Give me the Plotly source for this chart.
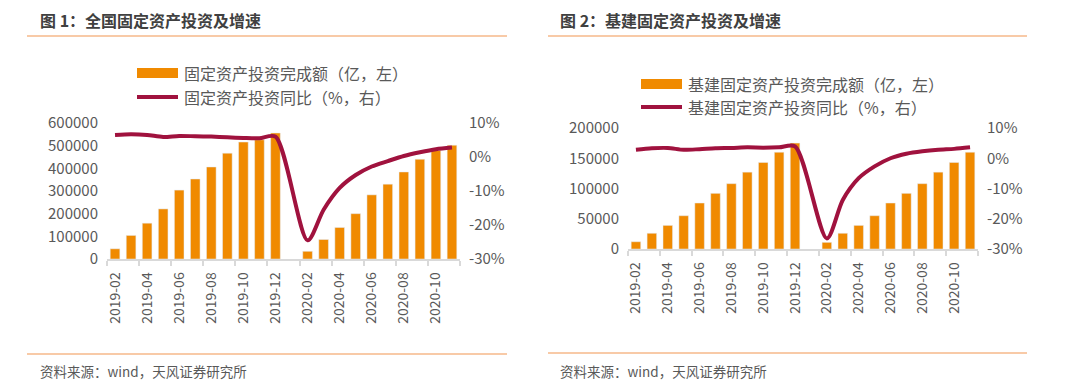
import plotly.graph_objects as go

# ---------------- data ----------------
months = ["2019-02", "2019-03", "2019-04", "2019-05", "2019-06", "2019-07",
          "2019-08", "2019-09", "2019-10", "2019-11", "2019-12", "2020-01",
          "2020-02", "2020-03", "2020-04", "2020-05", "2020-06", "2020-07",
          "2020-08", "2020-09", "2020-10", "2020-11"]

# Figure 1: national fixed asset investment (亿) and YoY (%)
fai_amount = [45000, 104000, 158000, 221000, 304000, 353000, 406000, 467000,
              516000, 526000, 556000, None,
              34000, 86000, 139000, 200000, 283000, 330000, 384000, 440000,
              479000, 502000]
fai_yoy = [6.5, 6.7, 6.5, 5.9, 6.2, 6.1, 6.0, 5.8, 5.6, 5.5, 6.0, None,
           -24.5, -15.5, -9.1, -5.3, -2.8, -1.2, 0.3, 1.4, 2.3, 2.8]

# Figure 2: infrastructure fixed asset investment (亿) and YoY (%)
infra_amount = [12000, 26000, 39000, 55000, 76000, 92000, 108000, 127000,
                143000, 160000, 175000, None,
                11000, 26000, 39000, 55000, 76000, 92000, 108000, 127000,
                143000, 160000]
infra_yoy = [2.8, 3.3, 3.4, 2.8, 3.0, 3.3, 3.4, 3.6, 3.5, 3.6, 3.9, None,
             -26.5, -13.8, -6.6, -2.7, 0.0, 1.5, 2.3, 2.8, 3.1, 3.6]

left_ticks_1 = [0, 100000, 200000, 300000, 400000, 500000, 600000]
left_ticks_2 = [0, 50000, 100000, 150000, 200000]
right_ticks = [-30, -20, -10, 0, 10]

titles = ["图 1：全国固定资产投资及增速", "图 2：基建固定资产投资及增速"]
legend_bar = ["固定资产投资完成额（亿，左）", "基建固定资产投资完成额（亿，左）"]
legend_line = ["固定资产投资同比（%，右）", "基建固定资产投资同比（%，右）"]
source = "资料来源：wind，天风证券研究所"

# ---------------- style ----------------
BAR = "#F08A00"
LINE = "#A0123E"
GRAY = "#595959"
AXIS = "#D9D9D9"
SEP = "#F6B98A"
FONT = "Noto Sans CJK SC"
W, H = 1080, 386

x = list(range(len(months)))
tickvals = x[::2]
ticktext = months[::2]
boundaries = [v - 0.5 for v in x[::2]] + [x[-1] + 0.5]
right_text = [f"{v}%" for v in right_ticks]

fig = go.Figure()

fig.add_trace(go.Bar(x=x, y=fai_amount, marker_color=BAR, width=0.6,
                     xaxis="x", yaxis="y", showlegend=False))
fig.add_trace(go.Scatter(x=x, y=fai_yoy, mode="lines", connectgaps=True,
                         line=dict(color=LINE, width=4, shape="spline", smoothing=0.8),
                         xaxis="x", yaxis="y2", showlegend=False))
fig.add_trace(go.Bar(x=x, y=infra_amount, marker_color=BAR, width=0.6,
                     xaxis="x2", yaxis="y3", showlegend=False))
fig.add_trace(go.Scatter(x=x, y=infra_yoy, mode="lines", connectgaps=True,
                         line=dict(color=LINE, width=4, shape="spline", smoothing=0.8),
                         xaxis="x2", yaxis="y4", showlegend=False))


def xax(domain, anchor):
    return dict(domain=domain, anchor=anchor, range=[-0.5, len(months) - 0.5],
                tickvals=tickvals, ticktext=ticktext, tickangle=-90,
                tickfont=dict(family=FONT, size=14, color=GRAY),
                ticks="", showline=True, linecolor=AXIS, linewidth=1.5,
                showgrid=False, zeroline=False, ticklabelstandoff=6,
                automargin=False,
                minor=dict(tickvals=boundaries, ticks="outside", ticklen=5,
                           tickcolor=AXIS, tickwidth=1.5, showgrid=False))


def yleft(domain, anchor, rng, tv):
    return dict(domain=domain, anchor=anchor, range=rng, tickvals=tv,
                ticktext=[str(v) for v in tv], showgrid=False, zeroline=False,
                showline=False, automargin=False,
                tickfont=dict(family=FONT, size=15, color=GRAY),
                ticklabelstandoff=8)


def yright(anchor, overlay):
    return dict(overlaying=overlay, anchor=anchor, side="right", range=[-30, 10],
                tickvals=right_ticks, ticktext=right_text, showgrid=False,
                zeroline=False, showline=False, automargin=False,
                tickfont=dict(family=FONT, size=15, color=GRAY),
                ticklabelstandoff=8)


fig.update_layout(
    width=W, height=H, margin=dict(l=0, r=0, t=0, b=0, pad=0, autoexpand=False),
    paper_bgcolor="white", plot_bgcolor="white", bargap=0.4,
    xaxis=xax([107 / W, 460 / W], "y"),
    yaxis=yleft([1 - 259 / H, 1 - 123 / H], "x", [0, 600000], left_ticks_1),
    yaxis2=yright("x", "y"),
    xaxis2=xax([628 / W, 978 / W], "y3"),
    yaxis3=yleft([1 - 249 / H, 1 - 128 / H], "x2", [0, 200000], left_ticks_2),
    yaxis4=yright("x2", "y3"),
)

shapes = []
annotations = []
panels = [
    dict(x0=27, x1=507, title_x=38, top=36, bottom=354, src_x=38,
         leg_x=137, leg_y1=73, leg_y2=97),
    dict(x0=548, x1=1027, title_x=558, top=36, bottom=353, src_x=558,
         leg_x=641, leg_y1=84, leg_y2=107),
]
for i, p in enumerate(panels):
    for yy in (p["top"], p["bottom"]):
        shapes.append(dict(type="line", xref="paper", yref="paper",
                           x0=p["x0"] / W, x1=p["x1"] / W,
                           y0=1 - yy / H, y1=1 - yy / H,
                           line=dict(color=SEP, width=1.5)))
    annotations.append(dict(text="<b>" + titles[i] + "</b>", xref="paper", yref="paper",
                            x=p["title_x"] / W, y=1 - 20 / H, xanchor="left",
                            yanchor="middle", showarrow=False,
                            font=dict(family=FONT, size=16, color="#404040")))
    annotations.append(dict(text=source, xref="paper", yref="paper",
                            x=p["src_x"] / W, y=1 - 371 / H, xanchor="left",
                            yanchor="middle", showarrow=False,
                            font=dict(family=FONT, size=13.5, color=GRAY)))
    lx = p["leg_x"]
    shapes.append(dict(type="rect", xref="paper", yref="paper",
                       x0=lx / W, x1=(lx + 41) / W,
                       y0=1 - (p["leg_y1"] + 5) / H, y1=1 - (p["leg_y1"] - 5) / H,
                       fillcolor=BAR, line=dict(width=0)))
    shapes.append(dict(type="line", xref="paper", yref="paper",
                       x0=lx / W, x1=(lx + 41) / W,
                       y0=1 - p["leg_y2"] / H, y1=1 - p["leg_y2"] / H,
                       line=dict(color=LINE, width=4)))
    annotations.append(dict(text=legend_bar[i], xref="paper", yref="paper",
                            x=(lx + 45) / W, y=1 - p["leg_y1"] / H, xanchor="left",
                            yanchor="middle", showarrow=False,
                            font=dict(family=FONT, size=16, color=GRAY)))
    annotations.append(dict(text=legend_line[i], xref="paper", yref="paper",
                            x=(lx + 45) / W, y=1 - p["leg_y2"] / H, xanchor="left",
                            yanchor="middle", showarrow=False,
                            font=dict(family=FONT, size=16, color=GRAY)))

fig.update_layout(shapes=shapes, annotations=annotations)
fig.write_html("out.html", config={"displayModeBar": False},
               post_script="document.body.style.margin='0';")
